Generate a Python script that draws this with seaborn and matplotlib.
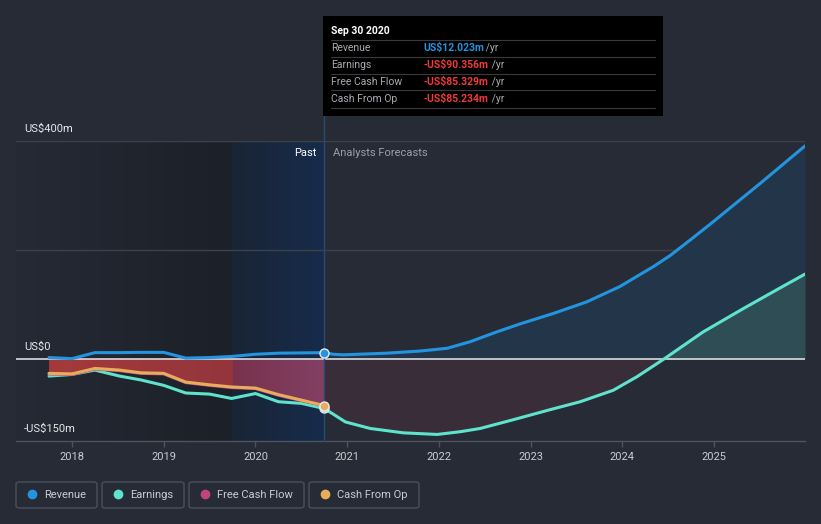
"""Revenue / earnings / cash flow history and analyst forecast, dark theme."""

import matplotlib
matplotlib.use("Agg")
import matplotlib.pyplot as plt
import numpy as np
import pandas as pd
import seaborn as sns
from matplotlib.patches import FancyBboxPatch, Rectangle

W, H = 821, 524

# ---- data (US$m, x in decimal years) ----
past_years = [2017.75, 2018.0, 2018.25, 2018.52, 2018.75, 2019.0, 2019.24,
              2019.5, 2019.74, 2020.0, 2020.25, 2020.5, 2020.75]
past_revenue = [3, 1, 12, 12, 12.5, 12.5, 2, 3, 5, 9, 11, 11.5, 12.0]
past_earnings = [-31, -28, -20, -31, -38, -48, -62, -64, -72, -63, -78, -81, -90.4]
past_fcf = [-27, -28, -18, -21, -26, -27, -43, -48, -52, -54, -66, -76, -85.3]
past_cfo = [-26, -27, -17, -20, -25, -26, -42, -47, -51, -53, -65, -75, -85.2]

rev_fc_years = [2020.75, 2020.85, 2020.96, 2021.43, 2021.80, 2022.09, 2022.34, 2022.63,
                2022.89, 2023.25, 2023.61, 2023.97, 2024.34, 2024.52, 2024.75, 2024.96,
                2025.50, 2025.99]
rev_fc = [12.0, 9, 8, 11, 15, 20, 32, 50, 65, 84, 105, 133, 170, 190, 220, 248, 322, 391]

earn_fc_years = [2020.75, 2020.85, 2020.98, 2021.25, 2021.61, 2021.98, 2022.23, 2022.45,
                 2022.81, 2023.18, 2023.54, 2023.90, 2024.16, 2024.45, 2024.88, 2025.32,
                 2025.68, 2025.99]
earn_fc = [-90.4, -101, -115, -127, -135, -138, -133, -127, -111, -94, -78, -57, -32, 0,
           50, 93, 127, 156]

year_ticks = [2018, 2019, 2020, 2021, 2022, 2023, 2024, 2025]
now = 2020.75
shade_start = 2019.74

BG = "#262b36"
C_REV = "#2394df"
C_EARN = "#5fe3cd"
C_FCF = "#c2437f"
C_CFO = "#e8ad5c"

sns.set_style("dark", {"axes.facecolor": BG, "figure.facecolor": BG})
plt.rcParams["font.family"] = ["Roboto", "DejaVu Sans"]


def px(x, y):
    return x / W, 1 - y / H


def hgrad(c0, c1, n=256):
    t = np.linspace(0, 1, n)[:, None]
    row = np.array(c0) / 255 * (1 - t) + np.array(c1) / 255 * t
    return row[None, :, :]


fig = plt.figure(figsize=(W / 100, H / 100), dpi=100)
x0, y0 = px(16, 441)
x1, y1 = px(805, 141)
ax = fig.add_axes([x0, y0, x1 - x0, y1 - y0])
ax.set_facecolor(BG)
xmin, xmax = 2017.39, 2025.99
ymin, ymax = -150, 400
ax.set_xlim(xmin, xmax)
ax.set_ylim(ymin, ymax)

# background shading: dark past, blue last twelve months
ax.imshow(hgrad((37, 42, 53), (28, 32, 40)), extent=(xmin, shade_start, ymin, ymax),
          aspect="auto", interpolation="bilinear", zorder=0)
ax.imshow(hgrad((26, 36, 53), (22, 44, 75)), extent=(shade_start, now, ymin, ymax),
          aspect="auto", interpolation="bilinear", zorder=0)

# grid lines
for yv in (200, 400):
    ax.axhline(yv, color="#3b414d", lw=1, zorder=1)
ax.axhline(0, color="#d9dbe0", lw=1.2, zorder=3)

# past negative cash flow fill (red, turning purple over the blue band)
poly = ax.fill_between(past_years, 0, past_fcf, color="none", lw=0, zorder=2)
red = np.concatenate([hgrad((164, 58, 58), (148, 53, 60), 200),
                      hgrad((120, 50, 76), (130, 64, 100), 100)], axis=1)
im = ax.imshow(red, extent=(past_years[0], now, ymin, ymax), aspect="auto",
               interpolation="bilinear", zorder=2)
im.set_clip_path(poly.get_paths()[0], transform=ax.transData)

fe = np.array(earn_fc)
ax.fill_between(earn_fc_years, 0, fe, where=fe <= 0, interpolate=True, color="#382d39",
                lw=0, zorder=2)
ax.fill_between(rev_fc_years, 0, rev_fc, color="#23374b", alpha=0.9, lw=0, zorder=2)
ax.fill_between(earn_fc_years, 0, fe, where=fe >= 0, interpolate=True, color="#2e4d55",
                lw=0, zorder=2)

# lines
lw = 2.2
past = pd.DataFrame({"year": past_years, "rev": past_revenue, "earn": past_earnings,
                     "fcf": past_fcf, "cfo": past_cfo})
rev_df = pd.DataFrame({"year": rev_fc_years, "rev": rev_fc})
earn_df = pd.DataFrame({"year": earn_fc_years, "earn": earn_fc})
sns.lineplot(data=past, x="year", y="earn", color=C_EARN, lw=lw, ax=ax, zorder=4)
sns.lineplot(data=earn_df, x="year", y="earn", color=C_EARN, lw=lw, ax=ax, zorder=4)
sns.lineplot(data=past, x="year", y="fcf", color=C_FCF, lw=lw, ax=ax, zorder=4)
sns.lineplot(data=past, x="year", y="cfo", color=C_CFO, lw=lw, ax=ax, zorder=5)
sns.lineplot(data=past, x="year", y="rev", color=C_REV, lw=lw, ax=ax, zorder=5)
sns.lineplot(data=rev_df, x="year", y="rev", color=C_REV, lw=lw, ax=ax, zorder=5)

# current markers
for val, col in ((past_earnings[-1], C_EARN), (past_cfo[-1], C_CFO), (past_revenue[-1], C_REV)):
    ax.scatter([now], [val], s=42, color=col, edgecolor="#e6e9ee", linewidth=1, zorder=7)

# vertical "now" line, extends up to the tooltip
ax.plot([now, now], [ymin, ymax + 229], color="#264a72", lw=1, zorder=6, clip_on=False)

ax.set_xlabel("")
ax.set_ylabel("")
ax.set_yticks([])
ax.set_xticks(year_ticks)
ax.set_xticklabels([str(y) for y in year_ticks])
ax.tick_params(axis="x", colors="#4d535f", labelcolor="#c9ccd2", length=4, width=1,
               labelsize=8, pad=4, bottom=True)
for side in ("top", "right", "left"):
    ax.spines[side].set_visible(False)
ax.spines["bottom"].set_color("#4d535f")
ax.spines["bottom"].set_linewidth(1)
ax.grid(False)

# y labels
for txt, yy in (("US$400m", 129), ("US$0", 347), ("-US$150m", 429)):
    fig.text(*px(24, yy), txt, color="#e6e8ec", fontsize=8, va="center", ha="left")

ax.text(now - 0.09, 378, "Past", color="#ffffff", fontsize=8, ha="right", va="center", zorder=8)
ax.text(now + 0.09, 378, "Analysts Forecasts", color="#9a9ea6", fontsize=8, ha="left",
        va="center", zorder=8)

# tooltip
fig.patches.append(Rectangle(px(323, 116), 340 / W, 100 / H, transform=fig.transFigure,
                             facecolor="#000000", edgecolor="none", zorder=10))
fig.text(*px(331, 31), "Sep 30 2020", color="#ffffff", fontsize=7.5, fontweight="bold",
         va="center", zorder=11)
rows = [("Revenue", "US$12.023m", C_REV), ("Earnings", "-US$90.356m", "#f0393c"),
        ("Free Cash Flow", "-US$85.329m", "#f0393c"), ("Cash From Op", "-US$85.234m", "#f0393c")]
for i, (lab, val, col) in enumerate(rows):
    yy = 48 + 17 * i
    fig.lines.append(plt.Line2D([331 / W, 655 / W], [1 - (yy - 8.5) / H] * 2,
                                transform=fig.transFigure, color="#3a3a3a", lw=0.8, zorder=11))
    fig.text(*px(331, yy), lab, color="#a8abb1", fontsize=7.5, va="center", zorder=11)
    fig.text(*px(423, yy), val, color=col, fontsize=7.5, fontweight="bold", va="center", zorder=11)
    fig.text(*px(423 + 6.1 * len(val) - 1, yy), " /yr", color="#a8abb1", fontsize=7.5,
             va="center", zorder=11)
fig.lines.append(plt.Line2D([331 / W, 655 / W], [1 - 108.5 / H] * 2,
                            transform=fig.transFigure, color="#3a3a3a", lw=0.8, zorder=11))

# legend buttons
legend = [("Revenue", C_REV, 16, 97), ("Earnings", C_EARN, 102, 184),
          ("Free Cash Flow", C_FCF, 189, 304), ("Cash From Op", C_CFO, 309, 419)]
for lab, col, lx0, lx1 in legend:
    fig.patches.append(FancyBboxPatch(px(lx0, 508), (lx1 - lx0) / W, 26 / H,
                                      boxstyle="round,pad=0,rounding_size=0.004",
                                      transform=fig.transFigure, facecolor="none",
                                      edgecolor="#4b515c", lw=1))
    fig.lines.append(plt.Line2D([(lx0 + 16) / W], [1 - 494 / H], marker="o", markersize=6,
                                color=col, transform=fig.transFigure, lw=0))
    fig.text(*px(lx0 + 28, 494.5), lab, color="#c9ccd2", fontsize=8, va="center")

fig.savefig("out.png", dpi=100, facecolor=BG)
